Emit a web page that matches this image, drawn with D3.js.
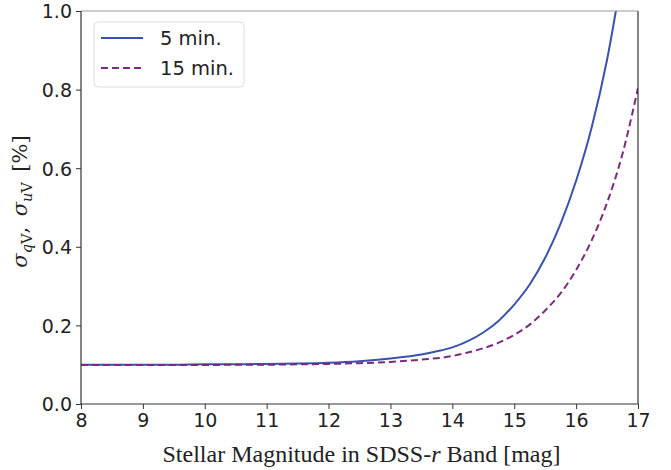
<!DOCTYPE html>
<html>
<head>
<meta charset="utf-8">
<script src="https://cdn.jsdelivr.net/npm/d3@7"></script>
<style>
  body { margin: 0; background: #fff; }
  .tick text { font-family: "DejaVu Sans", sans-serif; font-size: 19px; fill: #222; }
</style>
</head>
<body>
<svg id="chart" width="671" height="470"></svg>
<script>
// magnitudes sampled along the curves
const mags5  = [8, 8.5, 9, 9.5, 10, 10.5, 11, 11.5, 12, 12.5, 13, 13.5, 13.75, 14, 14.25, 14.5, 14.75, 15, 15.25, 15.5, 15.75, 16, 16.25, 16.5, 16.75];
const sigma5 = [0.100, 0.100, 0.100, 0.100, 0.101, 0.101, 0.102, 0.103, 0.105, 0.109, 0.116, 0.126, 0.134, 0.144, 0.160, 0.182, 0.212, 0.253, 0.304, 0.372, 0.459, 0.568, 0.703, 0.876, 1.10];

const mags15  = [8, 8.5, 9, 9.5, 10, 10.5, 11, 11.5, 12, 12.5, 13, 13.5, 14, 14.25, 14.5, 14.75, 15, 15.25, 15.5, 15.75, 16, 16.25, 16.5, 16.75, 17];
const sigma15 = [0.099, 0.099, 0.099, 0.099, 0.099, 0.100, 0.100, 0.101, 0.102, 0.104, 0.107, 0.113, 0.122, 0.131, 0.142, 0.156, 0.176, 0.202, 0.238, 0.282, 0.341, 0.416, 0.512, 0.637, 0.804];

const xTicks = [8, 9, 10, 11, 12, 13, 14, 15, 16, 17];
const yTicks = [0, 0.2, 0.4, 0.6, 0.8, 1.0];
const seriesNames = ["5 min.", "15 min."];

const svg = d3.select("#chart");
const margin = {left: 81, right: 33, top: 11, bottom: 66};
const W = +svg.attr("width"), H = +svg.attr("height");
const iw = W - margin.left - margin.right, ih = H - margin.top - margin.bottom;

const x = d3.scaleLinear().domain([8, 17]).range([0, iw]);
const y = d3.scaleLinear().domain([0, 1]).range([ih, 0]);

const g = svg.append("g").attr("transform", `translate(${margin.left},${margin.top})`);

g.append("defs").append("clipPath").attr("id", "clip")
  .append("rect").attr("width", iw).attr("height", ih);

const line = d3.line().x(d => x(d[0])).y(d => y(d[1])).curve(d3.curveMonotoneX);

const data5 = mags5.map((m, i) => [m, sigma5[i]]);
const data15 = mags15.map((m, i) => [m, sigma15[i]]);

const blue = "#3953ad", purple = "#7d2a7e";

g.append("path").datum(data5)
  .attr("clip-path", "url(#clip)")
  .attr("fill", "none").attr("stroke", blue).attr("stroke-width", 2)
  .attr("d", line);

g.append("path").datum(data15)
  .attr("clip-path", "url(#clip)")
  .attr("fill", "none").attr("stroke", purple).attr("stroke-width", 2)
  .attr("stroke-dasharray", "7,4")
  .attr("d", line);

// axes
const xAxis = g.append("g").attr("transform", `translate(0,${ih})`)
  .call(d3.axisBottom(x).tickValues(xTicks).tickFormat(d3.format("d")).tickSize(5).tickPadding(5));
const yAxis = g.append("g")
  .call(d3.axisLeft(y).tickValues(yTicks).tickFormat(d3.format(".1f")).tickSize(5).tickPadding(4));
[xAxis, yAxis].forEach(a => {
  a.select(".domain").remove();
  a.selectAll(".tick line").attr("stroke", "#333").attr("stroke-width", 1);
});
yAxis.selectAll(".tick text").attr("dy", "0.36em");

// spines
g.append("line").attr("x1", 0).attr("x2", iw).attr("y1", 0).attr("y2", 0).attr("stroke", "#999").attr("stroke-width", 1);
g.append("line").attr("x1", iw).attr("x2", iw).attr("y1", 0).attr("y2", ih).attr("stroke", "#333").attr("stroke-width", 1.2);
g.append("line").attr("x1", 0).attr("x2", 0).attr("y1", 0).attr("y2", ih).attr("stroke", "#333").attr("stroke-width", 1.2);
g.append("line").attr("x1", 0).attr("x2", iw).attr("y1", ih).attr("y2", ih).attr("stroke", "#333").attr("stroke-width", 1.2);

// axis labels
const xl = svg.append("text")
  .attr("x", margin.left + iw / 2 + 2).attr("y", 462)
  .attr("text-anchor", "middle")
  .style("font-family", "'Liberation Serif', 'Times New Roman', serif")
  .style("font-size", "24px").style("fill", "#222");
xl.append("tspan").text("Stellar Magnitude in SDSS-");
xl.append("tspan").style("font-style", "italic").text("r");
xl.append("tspan").text(" Band [mag]");

const yl = svg.append("text")
  .attr("transform", `translate(27,${margin.top + ih / 2 - 6}) rotate(-90)`)
  .attr("text-anchor", "middle")
  .style("font-family", "'DejaVu Serif', 'Liberation Serif', serif")
  .style("font-size", "21px").style("fill", "#222");
yl.append("tspan").style("font-style", "italic").text("σ");
yl.append("tspan").attr("dy", 5).style("font-size", "14.5px").style("font-style", "italic").text("q");
yl.append("tspan").style("font-size", "14.5px").text("V");
yl.append("tspan").attr("dy", -5).text(",\u2002");
yl.append("tspan").style("font-style", "italic").text("σ");
yl.append("tspan").attr("dy", 5).style("font-size", "14.5px").style("font-style", "italic").text("u");
yl.append("tspan").style("font-size", "14.5px").text("V");
yl.append("tspan").attr("dy", -5).text("\u2002[%]");

// legend
const leg = g.append("g").attr("transform", "translate(13,11)");
leg.append("rect").attr("width", 150).attr("height", 65).attr("rx", 4)
  .attr("fill", "#fff").attr("fill-opacity", 0.8).attr("stroke", "#ddd");
const items = [{name: seriesNames[0], color: blue, dash: null}, {name: seriesNames[1], color: purple, dash: "7,4"}];
items.forEach((it, i) => {
  const yy = 16 + i * 30;
  leg.append("line").attr("x1", 7).attr("x2", 49).attr("y1", yy).attr("y2", yy)
    .attr("stroke", it.color).attr("stroke-width", 2)
    .attr("stroke-dasharray", it.dash);
  leg.append("text").attr("x", 66).attr("y", yy).attr("dy", "0.36em")
    .style("font-family", "'DejaVu Sans', sans-serif").style("font-size", "19.5px").style("fill", "#222")
    .text(it.name);
});
</script>
</body>
</html>
